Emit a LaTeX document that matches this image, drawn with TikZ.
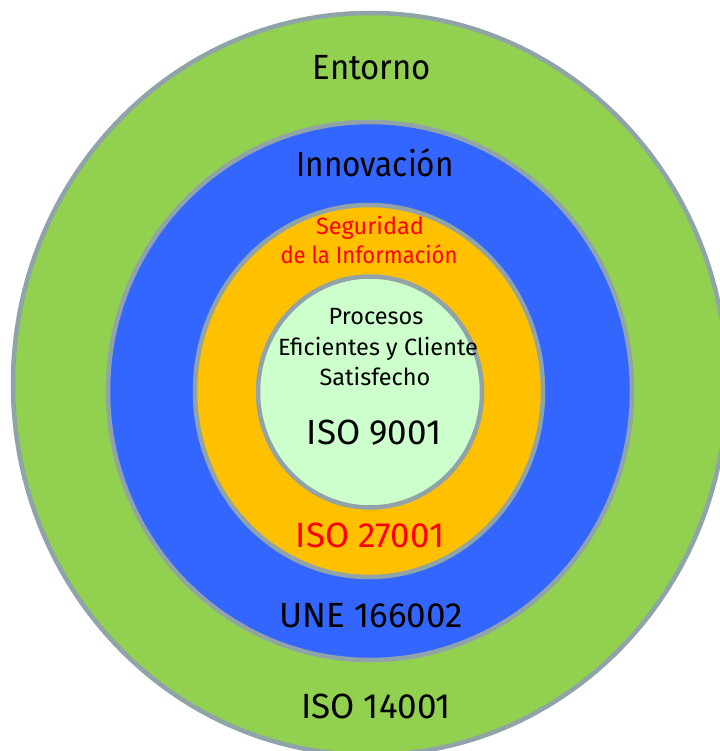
\documentclass[tikz,border=0pt]{standalone}
\usepackage{fontspec}
\setmainfont{Fira Sans}
\newfontfamily\narrowa[FakeStretch=0.9]{Fira Sans}
\newfontfamily\narrowb[FakeStretch=0.94]{Fira Sans}
\usetikzlibrary{shapes.geometric}
\definecolor{ringline}{HTML}{8FA3A9}
\definecolor{outergreen}{HTML}{92D050}
\definecolor{ringblue}{HTML}{3366FF}
\definecolor{ringorange}{HTML}{FFC000}
\definecolor{innergreen}{HTML}{CCFFCC}
\definecolor{labred}{HTML}{FF0000}
\tikzset{
  ring/.style={ellipse, draw=ringline, line width=4.5pt, inner sep=0pt},
  big/.style={anchor=base, inner sep=0pt, font=\fontsize{35}{40}\selectfont},
  small/.style={anchor=base, inner sep=0pt, font=\fontsize{23.5}{28}\selectfont},
}
\begin{document}
\begin{tikzpicture}[x=1pt,y=-1pt]
\useasboundingbox (0,0) rectangle (719,751);
\node[ring, fill=outergreen, minimum width=714pt, minimum height=742pt] (outer) at (370,384) {};
\node[ring, fill=ringblue, minimum width=524pt, minimum height=538pt] (blue) at (370,391) {};
\node[ring, fill=ringorange, minimum width=348pt, minimum height=372pt] (orange) at (369,391) {};
\node[ring, fill=innergreen, minimum width=224pt, minimum height=231pt] (inner) at (370,392) {};
\node[big] (entorno) at (372,80) {\narrowb Entorno};
\node[big] (innov) at (375,177) {\narrowa Innovación};
\node[small, text=labred] (seg1) at (370,234) {Seguridad};
\node[small, text=labred] (seg2) at (369,263) {\narrowb de la Información};
\node[small] (proc1) at (376,324) {Procesos};
\node[small] (proc2) at (378,355) {Eficientes y Cliente};
\node[small] (proc3) at (375,385) {Satisfecho};
\node[big] (iso9) at (374,444) {ISO 9001};
\node[big, text=labred] (iso27) at (370,547) {ISO 27001};
\node[big] (une) at (371,627) {UNE 166002};
\node[big] (iso14) at (376,718) {ISO 14001};
\end{tikzpicture}
\end{document}
